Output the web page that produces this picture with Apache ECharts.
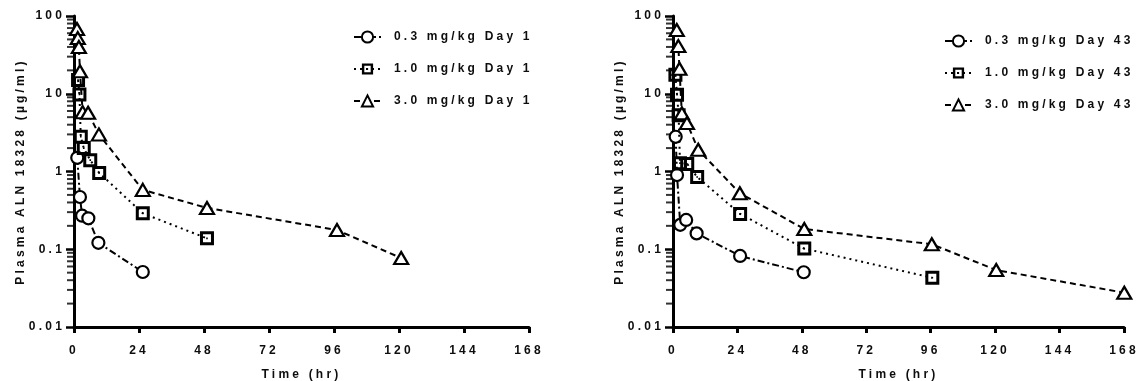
<!DOCTYPE html>
<html>
<head>
<meta charset="utf-8">
<script src="https://cdn.jsdelivr.net/npm/echarts@6/dist/echarts.min.js"></script>
<style>
  html, body { margin: 0; padding: 0; background: #fff; }
  #chart { width: 1137px; height: 381px; }
</style>
</head>
<body>
<div id="chart"></div>
<script>
// ---- axes ----
const xTicks = [0, 24, 48, 72, 96, 120, 144, 168];
const yTickLabels = ['0.01', '0.1', '1', '10', '100'];
const yMinorTicks = [
  0.02, 0.03, 0.04, 0.05, 0.06, 0.07, 0.08, 0.09,
  0.2, 0.3, 0.4, 0.5, 0.6, 0.7, 0.8, 0.9,
  2, 3, 4, 5, 6, 7, 8, 9,
  20, 30, 40, 50, 60, 70, 80, 90
];
const yAxisTitle = 'Plasma ALN 18328 (\u00b5g/ml)';
const xAxisTitle = 'Time (hr)';

// ---- Day 1 (time in hr, concentration in µg/ml) ----
const day1Names = ['0.3 mg/kg Day 1', '1.0 mg/kg Day 1', '3.0 mg/kg Day 1'];
const day1Time03 = [1.2, 2.2, 3.0, 5.3, 9.0, 25.4];
const day1Conc03 = [1.5, 0.47, 0.27, 0.25, 0.121, 0.051];
const day1Time10 = [1.5, 2.0, 2.5, 3.6, 6.0, 9.3, 25.4, 49.1];
const day1Conc10 = [15, 9.8, 2.8, 2.0, 1.4, 0.96, 0.29, 0.138];
const day1Time30 = [1.1, 1.4, 1.8, 2.2, 3.2, 5.2, 9.2, 25.4, 49.1, 97.1, 120.8];
const day1Conc30 = [68, 52, 40, 19.5, 5.8, 5.7, 3.0, 0.58, 0.34, 0.177, 0.077];

// ---- Day 43 ----
const day43Names = ['0.3 mg/kg Day 43', '1.0 mg/kg Day 43', '3.0 mg/kg Day 43'];
const day43Time03 = [1.0, 1.5, 2.7, 4.9, 8.8, 25.0, 48.7];
const day43Conc03 = [2.8, 0.9, 0.206, 0.238, 0.16, 0.082, 0.0506];
const day43Time10 = [0.9, 1.5, 2.1, 2.6, 5.3, 9.0, 25.0, 48.9, 96.6];
const day43Conc10 = [17.5, 9.7, 5.3, 1.28, 1.25, 0.85, 0.285, 0.102, 0.043];
const day43Time30 = [1.4, 2.0, 2.4, 3.3, 5.2, 9.4, 24.9, 48.9, 96.4, 120.4, 168.1];
const day43Conc30 = [66, 41, 21, 5.6, 4.2, 1.9, 0.526, 0.182, 0.116, 0.054, 0.0276];

const FONT = "'Liberation Sans', Arial, sans-serif";
const INK = '#0d0d0d';
const FS = 12;

// spaced-out lettering for every label drawn on the canvas
const baseFillText = CanvasRenderingContext2D.prototype.fillText;
CanvasRenderingContext2D.prototype.fillText = function (...args) {
  this.letterSpacing = '3.2px';
  return baseFillText.apply(this, args);
};

// open square with a small centre dot
const SQUARE_DOT = 'path://M0,0 H14 V14 H0 Z M3,3 V11 H11 V3 Z M6.2,6.2 H7.8 V7.8 H6.2 Z';

const pairs = (t, c) => t.map((v, i) => [v, c[i]]);

const markerStyles = [
  { symbol: 'circle', symbolSize: 12, itemStyle: { color: '#fff', borderColor: '#000', borderWidth: 2.2 },
    lineType: [7, 3, 2, 3] },
  { symbol: SQUARE_DOT, symbolSize: 14, itemStyle: { color: '#000', borderWidth: 0 },
    lineType: [2, 4] },
  { symbol: 'triangle', symbolSize: [14, 12], itemStyle: { color: '#fff', borderColor: '#000', borderWidth: 2.2 },
    lineType: [6, 4] }
];

function doseSeries(name, data, k, gi) {
  const m = markerStyles[k];
  return {
    type: 'line', name, data,
    xAxisIndex: gi, yAxisIndex: gi,
    symbol: m.symbol, symbolSize: m.symbolSize, symbolKeepAspect: true,
    showAllSymbol: true,
    itemStyle: m.itemStyle,
    lineStyle: { color: '#000', width: 2, type: m.lineType },
    emphasis: { disabled: true },
    clip: false, z: 3 + k
  };
}

// minor ticks of the log axis: short dashes on the axis line at 2..9 × 10^k
function minorTickSeries(gi) {
  return {
    type: 'scatter', xAxisIndex: gi, yAxisIndex: gi, silent: true, clip: false, z: 1,
    data: yMinorTicks.map(v => [0, v]),
    symbol: 'rect', symbolSize: [6, 2], symbolOffset: [-4, 0],
    itemStyle: { color: '#000' },
    emphasis: { disabled: true }
  };
}

function xAxis(gi) {
  return {
    type: 'value', gridIndex: gi,
    min: xTicks[0], max: xTicks[xTicks.length - 1], interval: xTicks[1] - xTicks[0],
    name: xAxisTitle, nameLocation: 'middle', nameGap: 42,
    nameTextStyle: { fontFamily: FONT, fontWeight: 'bold', fontSize: FS, color: INK },
    axisLine: { onZero: false, lineStyle: { color: '#000', width: 3 } },
    axisTick: { show: true, length: 6, lineStyle: { color: '#000', width: 3 } },
    axisLabel: { margin: 18, fontFamily: FONT, fontWeight: 'bold', fontSize: FS, color: INK },
    splitLine: { show: false }
  };
}

function yAxis(gi) {
  return {
    type: 'log', logBase: 10, gridIndex: gi, min: 0.01, max: 100, splitNumber: 4,
    name: yAxisTitle, nameLocation: 'middle', nameGap: 47,
    nameTextStyle: { fontFamily: FONT, fontWeight: 'bold', fontSize: FS, color: INK },
    axisLine: { onZero: false, lineStyle: { color: '#000', width: 3 } },
    axisTick: { show: true, length: 8, lineStyle: { color: '#000', width: 2.5 } },
    axisLabel: {
      margin: 9, fontFamily: FONT, fontWeight: 'bold', fontSize: FS, color: INK,
      formatter: v => yTickLabels[Math.round(Math.log10(v)) + 2] || ''
    },
    splitLine: { show: false }
  };
}

function legend(names, left, top) {
  return {
    orient: 'vertical', left, top, data: names,
    itemWidth: 27, itemHeight: 14, itemGap: 18,
    selectedMode: false,
    textStyle: { fontFamily: FONT, fontWeight: 'bold', fontSize: FS, color: INK,
                 lineHeight: 14, padding: [0, 0, 0, 8] }
  };
}

const chart = echarts.init(document.getElementById('chart'), null, { renderer: 'canvas' });
chart.setOption({
  animation: false,
  backgroundColor: '#fff',
  grid: [
    { left: 74, top: 16, width: 455, height: 311, outerBoundsMode: 'none' },
    { left: 673, top: 16, width: 451, height: 311, outerBoundsMode: 'none' }
  ],
  xAxis: [xAxis(0), xAxis(1)],
  yAxis: [yAxis(0), yAxis(1)],
  legend: [legend(day1Names, 348, 25), legend(day43Names, 939, 29)],
  series: [
    minorTickSeries(0),
    minorTickSeries(1),
    doseSeries(day1Names[0], pairs(day1Time03, day1Conc03), 0, 0),
    doseSeries(day1Names[1], pairs(day1Time10, day1Conc10), 1, 0),
    doseSeries(day1Names[2], pairs(day1Time30, day1Conc30), 2, 0),
    doseSeries(day43Names[0], pairs(day43Time03, day43Conc03), 0, 1),
    doseSeries(day43Names[1], pairs(day43Time10, day43Conc10), 1, 1),
    doseSeries(day43Names[2], pairs(day43Time30, day43Conc30), 2, 1)
  ]
});
</script>
</body>
</html>
